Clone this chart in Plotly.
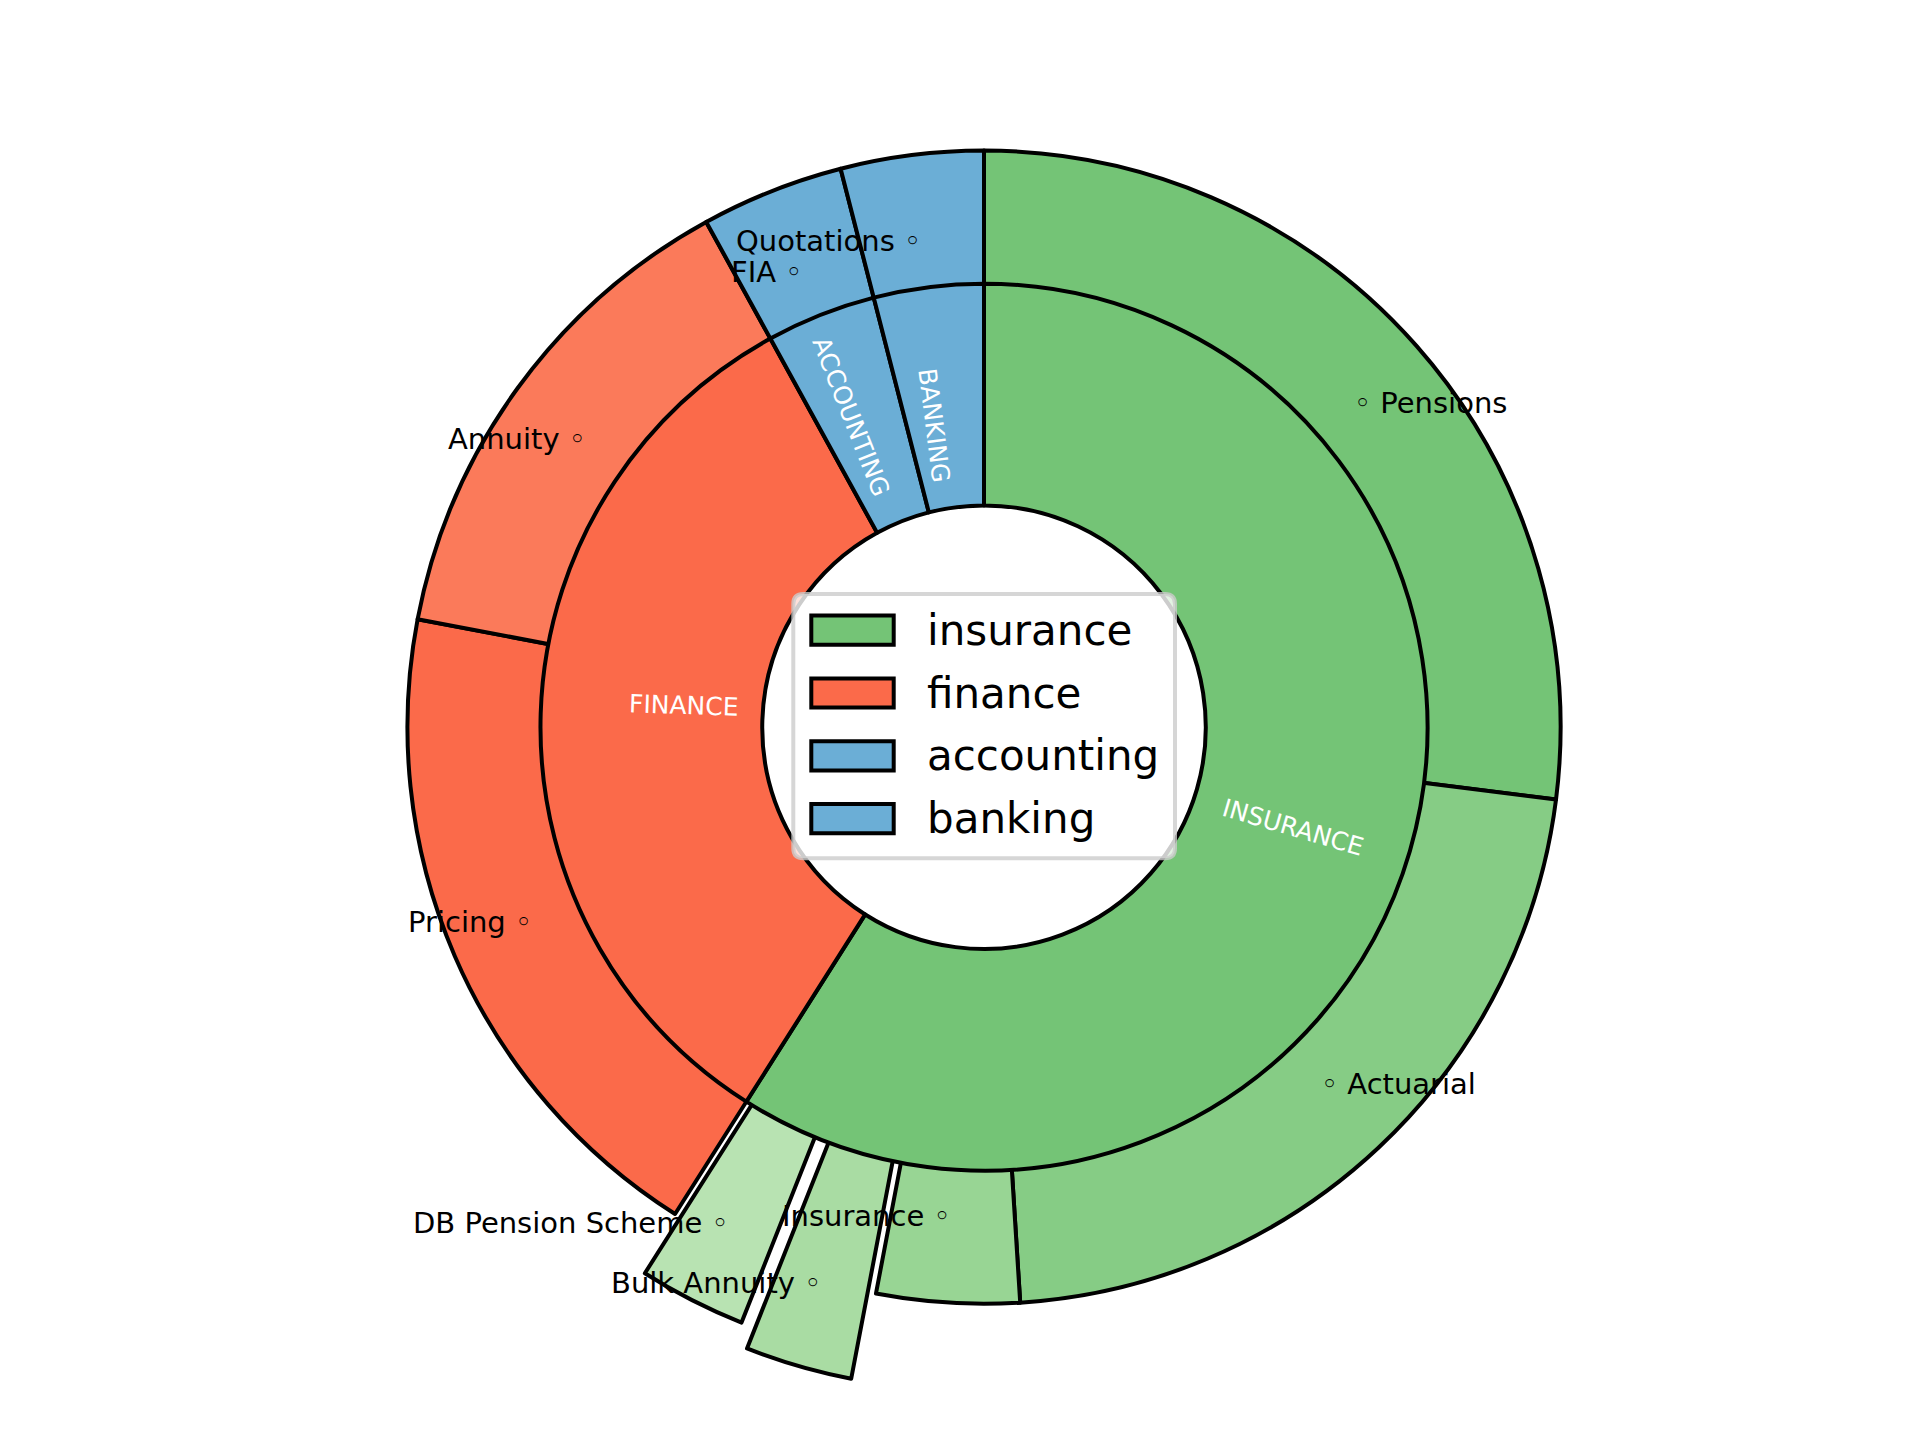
import math
import plotly.graph_objects as go

# inner ring: departments
groups = ["insurance", "finance", "accounting", "banking"]
group_text = ["INSURANCE", "FINANCE", "ACCOUNTING", "BANKING"]
group_sizes = [59, 33, 4, 4]
group_colors = ["#74c476", "#fb6a4a", "#6baed6", "#6baed6"]

# outer ring: roles inside each department (same order, clockwise from 12 o'clock)
subgroups = ["Pensions", "Actuarial", "Insurance", "Bulk Annuity", "DB Pension Scheme",
             "Pricing", "Annuity", "FIA", "Quotations"]
subgroup_sizes = [27, 22, 4, 3, 3, 19, 14, 4, 4]
subgroup_colors = ["#74c476", "#86cc85", "#98d594", "#a9dca3", "#b8e3b2",
                   "#fb6a4a", "#fb7a5a", "#6baed6", "#6baed6"]
subgroup_explode = [0, 0, 0, 0.2, 0.15, 0, 0, 0, 0]

# screen geometry (pixels of the 1920x1440 window), radii in data units
SCREEN_W, SCREEN_H = 1920, 1440
OFF = 8                                   # default page margin of the html body
W, H = SCREEN_W - 2 * OFF, SCREEN_H - 2 * OFF
CX, CY = 0.5125 * SCREEN_W, (1 - 0.495) * SCREEN_H
UNIT = 0.77 * SCREEN_H / 2.5
R_OUT, R_IN, R_HOLE = 1.3, 1.0, 0.5
R_OUT_HOLE = 0.75                         # hidden under the inner ring
FONT = "DejaVu Sans"
INNER_SIZE = 25

# rough DejaVu Sans advance widths (em) for the upper-case inner labels
CAP_W = {"A": .684, "B": .686, "C": .698, "E": .632, "F": .575, "G": .775, "I": .295,
         "K": .656, "N": .748, "O": .787, "R": .695, "S": .635, "T": .611, "U": .732}


def paper(px, py):
    return (px - OFF) / W, 1 - (py - OFF) / H


def domain(radius, max_pull):
    # plotly shrinks a pie by (1 + pull) so the box has to grow by the same amount
    half = (radius + max_pull) * UNIT
    x0, y1 = paper(CX - half, CY - half)
    x1, y0 = paper(CX + half, CY + half)
    return dict(x=[x0, x1], y=[y0, y1])


def mid_angles(sizes):
    total = float(sum(sizes))
    out, acc = [], 0.0
    for s in sizes:
        out.append(360.0 * (acc + s / 2.0) / total)
        acc += s
    return out


fig = go.Figure()

fig.add_trace(go.Pie(
    labels=subgroups, values=subgroup_sizes, sort=False, direction="clockwise", rotation=0,
    hole=R_OUT_HOLE / R_OUT, pull=[e / R_OUT for e in subgroup_explode],
    marker=dict(colors=subgroup_colors, line=dict(color="black", width=4)),
    textinfo="none", hoverinfo="label+value", showlegend=False,
    domain=domain(R_OUT, max(subgroup_explode)),
))

fig.add_trace(go.Pie(
    labels=groups, values=group_sizes, sort=False, direction="clockwise", rotation=0,
    hole=R_HOLE / R_IN,
    marker=dict(colors=group_colors, line=dict(color="black", width=4)),
    textinfo="none", hoverinfo="label+value", showlegend=False,
    domain=domain(R_IN, 0),
))

annotations = []

# outer labels, like matplotlib labeldistance=0.85
for name, th, ex in zip(subgroups, mid_angles(subgroup_sizes), subgroup_explode):
    r = (0.85 * R_OUT + ex) * UNIT
    xt = r * math.sin(math.radians(th))
    yt = r * math.cos(math.radians(th))
    x, y = paper(CX + xt, CY - yt)
    right = xt > 0
    annotations.append(dict(
        x=x, y=y, xref="paper", yref="paper", showarrow=False,
        text=("◦ " + name) if right else (name + " ◦"),
        xanchor="left" if right else "right", yanchor="middle",
        font=dict(family=FONT, size=29, color="black"),
    ))

# inner labels, rotated along the radius; the rotated box is corner-aligned on the
# anchor point as matplotlib does, then placed by its centre
for name, th in zip(group_text, mid_angles(group_sizes)):
    r = 0.552 * R_IN * UNIT
    xt = r * math.sin(math.radians(th))
    yt = r * math.cos(math.radians(th))
    rot = (90 - th) + (0 if xt > 0 else 180)
    a = math.radians(rot)
    tw = sum(CAP_W.get(ch, 0.7) for ch in name) * INNER_SIZE
    th_box = 1.0 * INNER_SIZE
    bw = tw * abs(math.cos(a)) + th_box * abs(math.sin(a))
    bh = tw * abs(math.sin(a)) + th_box * abs(math.cos(a))
    ccx = xt + (bw / 2 if xt > 0 else -bw / 2)
    ccy = yt + (bh / 2 if yt > 0 else -bh / 2)
    x, y = paper(CX + ccx, CY - ccy)
    angle = (-rot + 180) % 360 - 180
    annotations.append(dict(
        x=x, y=y, xref="paper", yref="paper", showarrow=False, text=name,
        textangle=angle, xanchor="center", yanchor="middle",
        font=dict(family=FONT, size=INNER_SIZE, color="white"),
    ))

# legend drawn in the hole
LX0, LY0, LX1, LY1, LRAD = 793.3, 594.0, 1175.0, 858.3, 10
ROW0, ROW_STEP = 630.2, 62.8
PATCH_X0, PATCH_X1, PATCH_H = 811.3, 893.7, 29.2
TEXT_X = 925


def rounded_box(x0, y0, x1, y1, rad):
    pts = [("M", x0 + rad, y0), ("L", x1 - rad, y0), ("Q", x1, y0, x1, y0 + rad),
           ("L", x1, y1 - rad), ("Q", x1, y1, x1 - rad, y1), ("L", x0 + rad, y1),
           ("Q", x0, y1, x0, y1 - rad), ("L", x0, y0 + rad), ("Q", x0, y0, x0 + rad, y0)]
    parts = []
    for p in pts:
        coords = []
        for i in range(1, len(p), 2):
            px, py = paper(p[i], p[i + 1])
            coords.append("%.5f,%.5f" % (px, py))
        parts.append(p[0] + " " + " ".join(coords))
    return " ".join(parts) + " Z"


shapes = [dict(type="path", xref="paper", yref="paper",
               path=rounded_box(LX0, LY0, LX1, LY1, LRAD),
               fillcolor="rgba(255,255,255,0.8)",
               line=dict(color="rgba(204,204,204,0.8)", width=4))]

for i, (name, col) in enumerate(zip(groups, group_colors)):
    cy = ROW0 + i * ROW_STEP
    x0, y0 = paper(PATCH_X0, cy + PATCH_H / 2)
    x1, y1 = paper(PATCH_X1, cy - PATCH_H / 2)
    shapes.append(dict(type="rect", xref="paper", yref="paper", x0=x0, y0=y0, x1=x1, y1=y1,
                       fillcolor=col, line=dict(color="black", width=4)))
    tx, ty = paper(TEXT_X, cy)
    annotations.append(dict(x=tx, y=ty, xref="paper", yref="paper", showarrow=False,
                            text=name, xanchor="left", yanchor="middle",
                            font=dict(family=FONT, size=42, color="black")))

fig.update_layout(
    width=W, height=H,
    margin=dict(l=0, r=0, t=0, b=0),
    paper_bgcolor="white", plot_bgcolor="white",
    font=dict(family=FONT),
    showlegend=False,
    shapes=shapes,
    annotations=annotations,
)

fig.write_html("out.html")
